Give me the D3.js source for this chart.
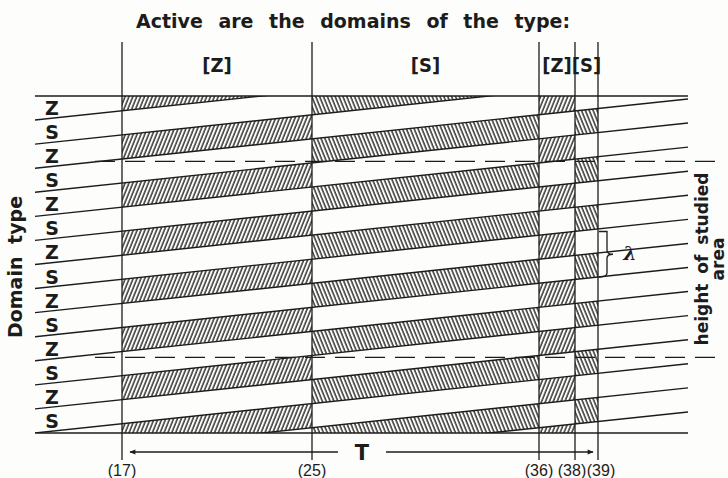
<!DOCTYPE html>
<html>
<head>
<meta charset="utf-8">
<script src="https://cdn.jsdelivr.net/npm/d3@7"></script>
<style>
  body { margin: 0; background: #fdfdfb; }
  svg#vis { display: block; }
  text { font-family: "DejaVu Sans", sans-serif; font-weight: bold; fill: #1c1c1c; }
</style>
</head>
<body>
<svg id="vis" width="728" height="478"></svg>
<script>
// time marks (band boundaries) and which domain type is active in each band
var bandBounds = [17, 25, 36, 38, 39];
var bandTypes = ["Z", "S", "Z", "S"];
var tickLabels = ["(17)", "(25)", "(36)", "(38)", "(39)"];

// domain stack, top to bottom
var domainTypes = ["Z", "S", "Z", "S", "Z", "S", "Z", "S", "Z", "S", "Z", "S", "Z", "S"];

// studied area limits and the period brace, in domain units
var studiedArea = [2.72, 10.86];
var lambdaSpan = [5.63, 7.52];

var ink = "#1c1c1c";
var svg = d3.select("svg#vis");

var attr = {
  left: 35,
  right: 688,
  top: 96,
  bottom: 433,
  tilt: 0.106   // the domain walls rise to the right
};

// piecewise time axis
var x = d3.scaleLinear()
  .domain(bandBounds)
  .range([122, 312, 539, 575, 598]);

var y = d3.scaleLinear()
  .domain([0, domainTypes.length])
  .range([attr.top, attr.bottom]);

function wallY(k, px) {
  return y(k) - attr.tilt * (px - attr.left);
}

var defs = svg.append("defs");

defs.append("clipPath").attr("id", "plotClip")
  .append("rect")
  .attr("x", attr.left).attr("y", attr.top)
  .attr("width", attr.right - attr.left)
  .attr("height", attr.bottom - attr.top);

// hatching: "/" for Z, "\" for S
[["Z", 22], ["S", -22]].forEach(function(h) {
  defs.append("pattern")
    .attr("id", "hatch" + h[0])
    .attr("patternUnits", "userSpaceOnUse")
    .attr("width", 3.6).attr("height", 10)
    .attr("patternTransform", "rotate(" + h[1] + ")")
    .append("line")
    .attr("x1", 1).attr("x2", 1).attr("y1", -1).attr("y2", 11)
    .attr("stroke", "#262626").attr("stroke-width", 1.4);
});

defs.append("marker").attr("id", "arrow")
  .attr("viewBox", "0 0 10 10").attr("refX", 9).attr("refY", 5)
  .attr("markerWidth", 11).attr("markerHeight", 6)
  .attr("markerUnits", "userSpaceOnUse")
  .attr("orient", "auto-start-reverse")
  .append("path").attr("d", "M0,1L10,5L0,9Z").attr("fill", ink);

var g = {
  hatch: svg.append("g").attr("clip-path", "url(#plotClip)"),
  walls: svg.append("g").attr("clip-path", "url(#plotClip)"),
  frame: svg.append("g"),
  labels: svg.append("g")
};

// hatched active domains inside each band
var bands = bandTypes.map(function(t, i) {
  return { type: t, x0: x(bandBounds[i]), x1: x(bandBounds[i + 1]) };
});

var stripes = [];
bands.forEach(function(b) {
  for (var k = -4; k < domainTypes.length + 4; k++) {
    var type = (Math.abs(k) % 2 == 0) ? "Z" : "S";
    if (type == b.type) stripes.push({ k: k, band: b });
  }
});

g.hatch.selectAll("path.stripe")
  .data(stripes)
  .enter()
  .append("path")
  .attr("class", "stripe")
  .attr("d", function(d) {
    var a = d.band.x0, b = d.band.x1;
    return "M" + a + "," + wallY(d.k, a) + "L" + b + "," + wallY(d.k, b) +
      "L" + b + "," + wallY(d.k + 1, b) + "L" + a + "," + wallY(d.k + 1, a) + "Z";
  })
  .attr("fill", function(d) { return "url(#hatch" + d.band.type + ")"; });

// domain walls
var wallIdx = d3.range(1, domainTypes.length + 4);
g.walls.selectAll("line.wall")
  .data(wallIdx)
  .enter()
  .append("line")
  .attr("class", "wall")
  .attr("x1", attr.left).attr("y1", d => wallY(d, attr.left))
  .attr("x2", attr.right).attr("y2", d => wallY(d, attr.right))
  .attr("stroke", ink).attr("stroke-width", 1.4);

// top and bottom border
g.frame.selectAll("line.edge")
  .data([attr.top, attr.bottom])
  .enter()
  .append("line")
  .attr("x1", attr.left).attr("x2", attr.right)
  .attr("y1", d => d).attr("y2", d => d)
  .attr("stroke", ink).attr("stroke-width", 1.5);

// band boundaries
g.frame.selectAll("line.bound")
  .data(bandBounds)
  .enter()
  .append("line")
  .attr("x1", d => x(d)).attr("x2", d => x(d))
  .attr("y1", 42).attr("y2", 460)
  .attr("stroke", ink).attr("stroke-width", 1.3);

// studied area
g.frame.selectAll("line.dash")
  .data(studiedArea)
  .enter()
  .append("line")
  .attr("x1", 95).attr("x2", 718)
  .attr("y1", d => y(d)).attr("y2", d => y(d))
  .attr("stroke", ink).attr("stroke-width", 1.3)
  .attr("stroke-dasharray", "20,10");

// T arrow
g.frame.append("line")
  .attr("x1", 338).attr("x2", x(17) + 8).attr("y1", 452).attr("y2", 452)
  .attr("stroke", ink).attr("stroke-width", 1.3)
  .attr("marker-end", "url(#arrow)");
g.frame.append("line")
  .attr("x1", 386).attr("x2", x(39) - 5).attr("y1", 452).attr("y2", 452)
  .attr("stroke", ink).attr("stroke-width", 1.3)
  .attr("marker-end", "url(#arrow)");

// lambda brace
var ly0 = y(lambdaSpan[0]), ly1 = y(lambdaSpan[1]), lm = (ly0 + ly1) / 2;
g.frame.append("path")
  .attr("d", "M" + (x(39) + 1) + "," + ly0 + "L607," + ly0 + "L607," + (lm - 4) +
    "Q607," + lm + " 613," + lm + "Q607," + lm + " 607," + (lm + 4) +
    "L607," + (ly1 - 4) + "Q607," + ly1 + " " + (x(39) + 1) + "," + ly1)
  .attr("fill", "none").attr("stroke", ink).attr("stroke-width", 1.3);

g.labels.append("text")
  .attr("x", 630).attr("y", lm + 6)
  .attr("text-anchor", "middle")
  .style("font-family", "'DejaVu Serif', serif")
  .style("font-style", "italic")
  .style("font-size", "19px")
  .text("λ");

// title
g.labels.append("text")
  .attr("x", 353).attr("y", 28)
  .attr("text-anchor", "middle")
  .style("font-size", "19px")
  .style("word-spacing", "9px")
  .text("Active are the domains of the type:");

// band labels
g.labels.selectAll("text.band")
  .data(bands)
  .enter()
  .append("text")
  .attr("class", "band")
  .attr("x", d => (d.x0 + d.x1) / 2)
  .attr("y", 72)
  .attr("text-anchor", "middle")
  .style("font-family", "'DejaVu Sans Condensed', 'DejaVu Sans', sans-serif")
  .style("font-size", "20px")
  .text(d => "[" + d.type + "]");

// domain type column
g.labels.selectAll("text.dom")
  .data(domainTypes)
  .enter()
  .append("text")
  .attr("class", "dom")
  .attr("x", 52)
  .attr("y", (d, i) => y(i + 0.5) + 7)
  .attr("text-anchor", "middle")
  .style("font-size", "19px")
  .text(d => d);

g.labels.append("text")
  .attr("transform", "translate(22,267) rotate(-90)")
  .attr("text-anchor", "middle")
  .style("font-size", "19px")
  .style("word-spacing", "6px")
  .text("Domain type");

g.labels.append("text")
  .attr("transform", "translate(708,259) rotate(-90)")
  .attr("text-anchor", "middle")
  .style("font-size", "17px")
  .style("word-spacing", "4px")
  .text("height of studied");
g.labels.append("text")
  .attr("transform", "translate(724,259) rotate(-90)")
  .attr("text-anchor", "middle")
  .style("font-size", "17px")
  .text("area");

// time ticks
var tickShift = [0, 0, 0, -3, 3];
g.labels.selectAll("text.tick")
  .data(bandBounds)
  .enter()
  .append("text")
  .attr("class", "tick")
  .attr("x", (d, i) => x(d) + tickShift[i])
  .attr("y", 476)
  .attr("text-anchor", "middle")
  .style("font-family", "'Liberation Sans Narrow', 'Liberation Sans', sans-serif")
  .style("font-weight", "normal")
  .style("font-size", "16px")
  .text((d, i) => tickLabels[i]);

g.labels.append("text")
  .attr("x", 362).attr("y", 460)
  .attr("text-anchor", "middle")
  .style("font-size", "21px")
  .text("T");
</script>
</body>
</html>
